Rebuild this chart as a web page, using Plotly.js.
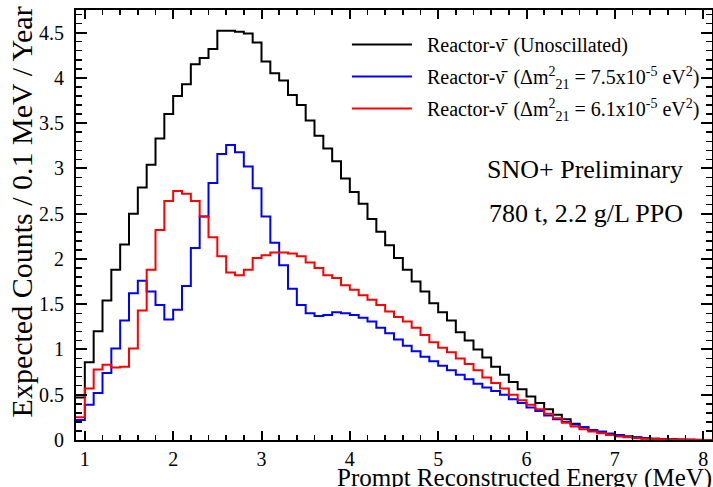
<!DOCTYPE html>
<html><head><meta charset="utf-8">
<script src="https://cdn.plot.ly/plotly-3.0.1.min.js"></script>
<style>html,body{margin:0;padding:0;background:#fff}#chart{width:713px;height:487px}</style>
</head><body><div id="chart"></div>
<script>
// Bin edges (MeV), 0.1 MeV bins
const binEdges = [0.9,1.0,1.1,1.2,1.3,1.4,1.5,1.6,1.7,1.8,
  1.9,2.0,2.1,2.2,2.3,2.4,2.5,2.6,2.7,2.8,
  2.9,3.0,3.1,3.2,3.3,3.4,3.5,3.6,3.7,3.8,
  3.9,4.0,4.1,4.2,4.3,4.4,4.5,4.6,4.7,4.8,
  4.9,5.0,5.1,5.2,5.3,5.4,5.5,5.6,5.7,5.8,
  5.9,6.0,6.1,6.2,6.3,6.4,6.5,6.6,6.7,6.8,
  6.9,7.0,7.1,7.2,7.3,7.4,7.5,7.6,7.7,7.8,
  7.9,8.0,8.1];

// Expected counts per bin
const unoscillated = [0.47,0.86,1.20,1.54,1.88,2.16,2.50,2.79,3.04,3.33,
  3.60,3.80,3.93,4.15,4.22,4.32,4.52,4.52,4.51,4.49,
  4.39,4.18,4.05,3.97,3.81,3.70,3.53,3.36,3.22,3.08,
  2.89,2.74,2.61,2.44,2.30,2.15,2.01,1.88,1.75,1.64,
  1.51,1.41,1.32,1.19,1.10,1.00,0.91,0.81,0.72,0.64,
  0.56,0.48,0.41,0.34,0.28,0.23,0.18,0.14,0.11,0.09,
  0.07,0.055,0.04,0.03,0.02,0.014,0.01,0.007,0.005,0.003,
  0.002,0.001];

const dm75 = [0.22,0.39,0.52,0.74,1.01,1.32,1.62,1.76,1.64,1.49,
  1.33,1.44,1.70,2.12,2.47,2.84,3.16,3.26,3.18,3.02,
  2.78,2.47,2.18,1.93,1.67,1.49,1.40,1.37,1.38,1.41,
  1.40,1.38,1.35,1.31,1.24,1.18,1.11,1.04,0.98,0.92,
  0.87,0.82,0.77,0.72,0.67,0.62,0.58,0.54,0.50,0.45,
  0.41,0.36,0.32,0.27,0.23,0.20,0.17,0.14,0.11,0.09,
  0.07,0.055,0.04,0.028,0.02,0.013,0.009,0.006,0.004,0.002,
  0.001,0];

const dm61 = [0.25,0.57,0.78,0.83,0.80,0.81,1.01,1.43,1.88,2.32,
  2.64,2.75,2.72,2.64,2.47,2.24,2.03,1.85,1.82,1.88,
  2.01,2.04,2.07,2.07,2.06,2.03,1.96,1.90,1.82,1.79,
  1.71,1.66,1.60,1.55,1.49,1.42,1.36,1.31,1.24,1.16,
  1.08,1.02,0.97,0.90,0.84,0.77,0.69,0.63,0.57,0.50,
  0.44,0.39,0.34,0.29,0.24,0.19,0.15,0.12,0.095,0.075,
  0.055,0.04,0.03,0.02,0.015,0.01,0.007,0.005,0.003,0.002,
  0.001,0];

const seriesNames = [
  '\u2002Reactor-\u03BD\u0304\u2009\u00A0(Unoscillated)',
  '\u2002Reactor-\u03BD\u0304\u2009\u00A0(\u0394m<sup>2</sup><sub>21</sub> = 7.5x10<sup>-5</sup> eV<sup>2</sup>)',
  '\u2002Reactor-\u03BD\u0304\u2009\u00A0(\u0394m<sup>2</sup><sub>21</sub> = 6.1x10<sup>-5</sup> eV<sup>2</sup>)'
];
const seriesValues = [unoscillated, dm75, dm61];
const seriesColors = ['#000000', '#0000ff', '#ff0000'];

function stepY(v) { return v.concat([v[v.length - 1]]); }

const traces = seriesValues.map((vals, i) => ({
  type: 'scatter', mode: 'lines',
  x: binEdges, y: stepY(vals),
  name: seriesNames[i],
  legendgroup: 'g' + i,
  line: { shape: 'hv', color: seriesColors[i], width: 2 },
  hoverinfo: 'x+y'
}));

const FONT = 'Liberation Serif, Times New Roman, serif';

const layout = {
  width: 713, height: 487,
  margin: { l: 76, r: 1, t: 10, b: 47 },
  paper_bgcolor: '#ffffff', plot_bgcolor: '#ffffff',
  font: { family: FONT, color: '#000', size: 20 },
  showlegend: true,
  legend: {
    x: 0.426, xanchor: 'left', y: 0.965, yanchor: 'top',
    bgcolor: 'rgba(0,0,0,0)', borderwidth: 0,
    font: { family: FONT, size: 20, color: '#000' },
    itemwidth: 60, tracegroupgap: 3
  },
  xaxis: {
    range: [0.9, 8.1], tick0: 0, dtick: 1,
    showline: true, linewidth: 2, linecolor: '#000', mirror: 'allticks',
    ticks: 'inside', ticklen: 9, tickwidth: 2, tickcolor: '#000',
    minor: { dtick: 0.2, tick0: 0, ticks: 'inside', ticklen: 5, tickwidth: 1.5, tickcolor: '#000', showgrid: false },
    tickfont: { family: FONT, size: 20 },
    ticklabelstandoff: 0,
    showgrid: false, zeroline: false
  },
  yaxis: {
    range: [0, 4.75], tick0: 0, dtick: 0.5,
    showline: true, linewidth: 2, linecolor: '#000', mirror: 'allticks',
    ticks: 'inside', ticklen: 11, tickwidth: 2, tickcolor: '#000',
    minor: { dtick: 0.1, tick0: 0, ticks: 'inside', ticklen: 6, tickwidth: 1.5, tickcolor: '#000', showgrid: false },
    tickfont: { family: FONT, size: 20 },
    ticklabelstandoff: 6,
    showgrid: false, zeroline: false
  },
  annotations: [
    { text: 'SNO+ Preliminary', xref: 'paper', yref: 'paper', x: 0.957, y: 0.628,
      xanchor: 'right', yanchor: 'middle', showarrow: false, font: { family: FONT, size: 26 } },
    { text: '780 t, 2.2 g/L PPO', xref: 'paper', yref: 'paper', x: 0.957, y: 0.5256,
      xanchor: 'right', yanchor: 'middle', showarrow: false, font: { family: FONT, size: 26 } },
    { text: 'Prompt Reconstructed Energy (MeV)', xref: 'paper', yref: 'paper', x: 1.003, y: -0.088,
      xanchor: 'right', yanchor: 'middle', showarrow: false, font: { family: FONT, size: 25 } },
    { text: 'Expected Counts / 0.1 MeV / Year', xref: 'paper', yref: 'paper', x: -0.085, y: 1.014,
      xanchor: 'center', yanchor: 'top', textangle: -90, showarrow: false, font: { family: FONT, size: 30 } }
  ]
};

Plotly.newPlot('chart', traces, layout, { displayModeBar: false, staticPlot: true });
</script>
</body></html>
